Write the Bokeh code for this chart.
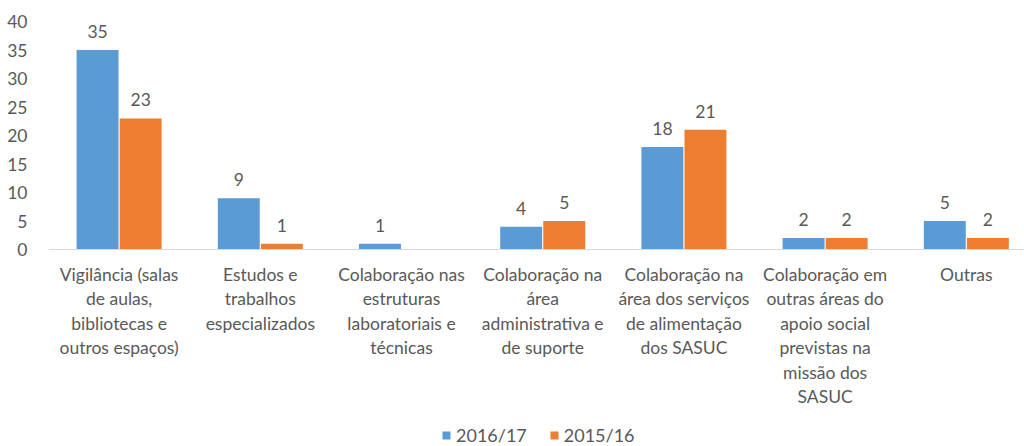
from bokeh.plotting import figure
from bokeh.models import Range1d, FixedTicker, ColumnDataSource, Legend, LegendItem, Span
from bokeh.transform import dodge
from bokeh.core.properties import value
from bokeh.embed import file_html
from bokeh.resources import INLINE

categories = [
    "Vigilância (salas\nde aulas,\nbibliotecas e\noutros espaços)",
    "Estudos e\ntrabalhos\nespecializados",
    "Colaboração nas\nestruturas\nlaboratoriais e\ntécnicas",
    "Colaboração na\nárea\nadministrativa e\nde suporte",
    "Colaboração na\nárea dos serviços\nde alimentação\ndos SASUC",
    "Colaboração em\noutras áreas do\napoio social\nprevistas na\nmissão dos\nSASUC",
    "Outras",
]
series_names = ["2016/17", "2015/16"]
values_2016 = [35, 9, 1, 4, 18, 2, 5]
values_2015 = [23, 1, 0, 5, 21, 2, 2]
y_ticks = [0, 5, 10, 15, 20, 25, 30, 35, 40]

BLUE = "#5B9BD5"
ORANGE = "#ED7D31"
TEXT = "#595959"
FONT = "Lato"

xs = list(range(len(categories)))

# frame spans from y=21 to the bottom of the page; value 0 sits at y=249
px_per_unit = 228 / 40.0
y_bottom = -(446 - 249) / px_per_unit

p = figure(width=1024, height=446, output_backend="svg", toolbar_location=None,
           x_range=Range1d(-0.5, 6.412), y_range=Range1d(y_bottom, 40),
           min_border_left=48, min_border_right=0, min_border_top=21, min_border_bottom=0)
p.outline_line_color = None
p.grid.grid_line_color = None
p.background_fill_color = "white"
p.border_fill_color = "white"
p.xaxis.visible = False

src1 = ColumnDataSource(dict(x=xs, y=values_2016, lab=[str(v) for v in values_2016]))
src2 = ColumnDataSource(dict(x=xs, y=values_2015, lab=[str(v) if v else "" for v in values_2015]))
src_cat = ColumnDataSource(dict(x=xs, y=[0] * len(xs), lab=categories))

w = 0.305
r1 = p.vbar(x=dodge("x", -w / 2, range=p.x_range), top="y", bottom=0, width=w - 0.008, source=src1,
            fill_color=BLUE, line_color=None)
r2 = p.vbar(x=dodge("x", w / 2, range=p.x_range), top="y", bottom=0, width=w - 0.008, source=src2,
            fill_color=ORANGE, line_color=None)

for src, off in ((src1, -w / 2), (src2, w / 2)):
    p.text(x=dodge("x", off, range=p.x_range), y="y", text="lab", source=src,
           text_align="center", text_baseline="bottom", y_offset=-12,
           text_font=value(FONT), text_font_size="17.5px", text_color=TEXT)

# category axis line and labels
p.add_layout(Span(location=0, dimension="width", line_color="#D9D9D9", line_width=1))
p.text(x="x", y="y", text="lab", source=src_cat, text_align="center", text_baseline="top",
       y_offset=14, text_font=value(FONT), text_font_size="17.5px", text_color=TEXT,
       text_line_height=1.17)

# y axis
p.yaxis.ticker = FixedTicker(ticks=y_ticks)
p.yaxis.axis_line_color = None
p.yaxis.major_tick_line_color = None
p.yaxis.minor_tick_line_color = None
p.yaxis.major_label_standoff = 15
p.yaxis.major_label_text_font = FONT
p.yaxis.major_label_text_font_size = "17.5px"
p.yaxis.major_label_text_color = TEXT

legend = Legend(items=[LegendItem(label=series_names[0], renderers=[r1]),
                       LegendItem(label=series_names[1], renderers=[r2])],
                location=(393, 0), orientation="horizontal",
                glyph_width=10, glyph_height=10, label_standoff=5, spacing=22,
                padding=0, margin=0, border_line_color=None, background_fill_alpha=0,
                label_text_font=FONT, label_text_font_size="18px", label_text_color=TEXT)
p.add_layout(legend, "center")

open("out.html", "w").write(file_html(p, INLINE))
